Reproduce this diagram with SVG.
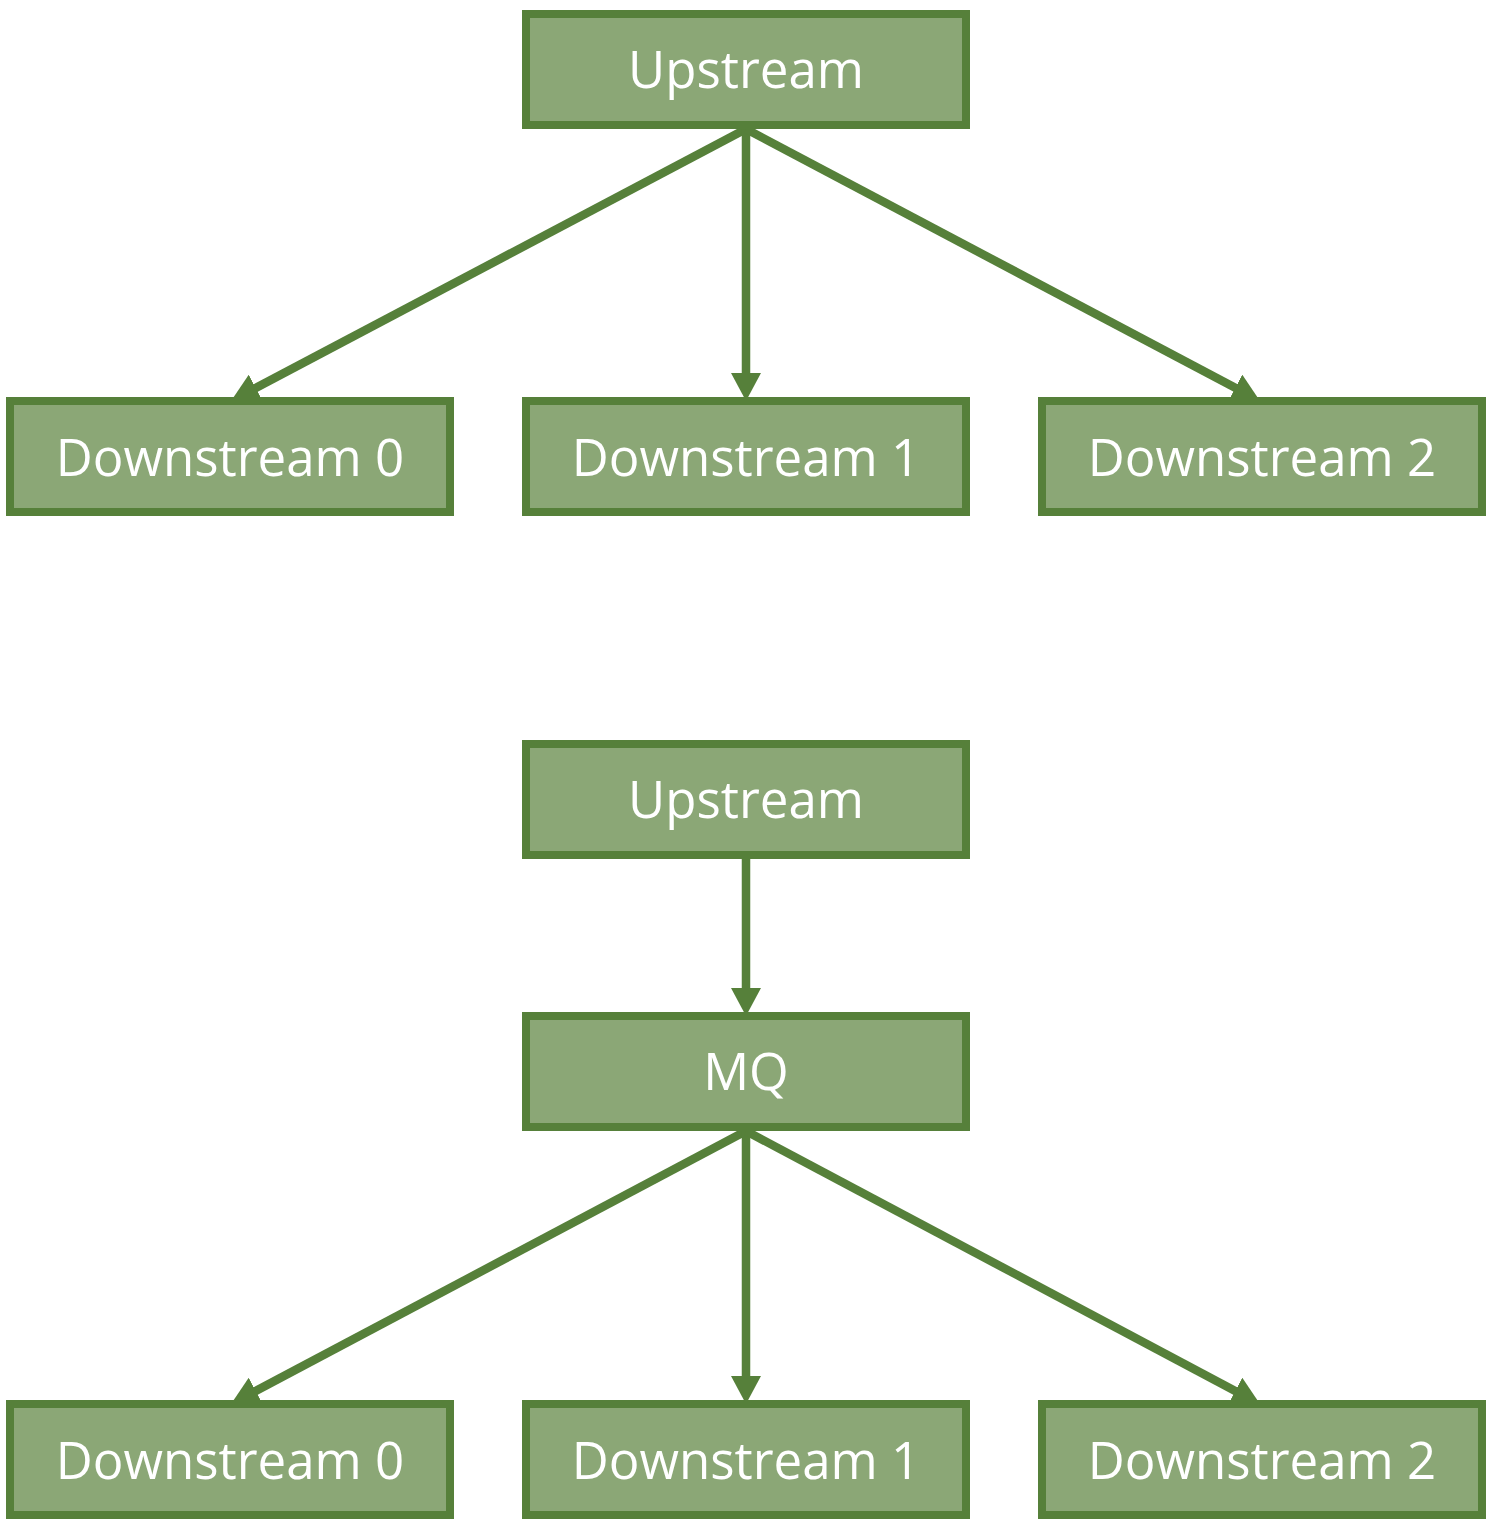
<svg xmlns="http://www.w3.org/2000/svg" width="1492" height="1528" viewBox="0 0 1492 1528">
<style>
.box{fill:#8BA776;stroke:#56803A;stroke-width:8}
.lbl{font-family:"Open Sans","Liberation Sans",sans-serif;font-size:51px;fill:#FFFFFF;text-anchor:middle}
.con{stroke:#56803A;stroke-width:8.5;fill:none;marker-end:url(#ah)}
</style>
<defs>
<marker id="ah" markerUnits="userSpaceOnUse" markerWidth="30" markerHeight="30" refX="8" refY="15" orient="auto" viewBox="0 0 30 30">
<path d="M0,0 L28,15 L0,30 z" fill="#56803A"/>
</marker>
</defs>
<rect width="1492" height="1528" fill="#FFFFFF"/>
<g id="connectors">
<line class="con" x1="746" y1="129" x2="248.7" y2="391.7"/>
<line class="con" x1="746" y1="129" x2="746" y2="381"/>
<line class="con" x1="746" y1="129" x2="1242.3" y2="391.6"/>
<line class="con" x1="746" y1="859" x2="746" y2="996"/>
<line class="con" x1="746" y1="1131" x2="248.7" y2="1394.7"/>
<line class="con" x1="746" y1="1131" x2="746" y2="1384"/>
<line class="con" x1="746" y1="1131" x2="1242.3" y2="1394.7"/>
</g>
<g id="upstream1"><rect class="box" x="526" y="14" width="440" height="111"/><text class="lbl" x="746" y="88">Upstream</text></g>
<g id="down0a"><rect class="box" x="10" y="401" width="440" height="111"/><text class="lbl" x="230" y="476">Downstream 0</text></g>
<g id="down1a"><rect class="box" x="526" y="401" width="440" height="111"/><text class="lbl" x="746" y="476">Downstream 1</text></g>
<g id="down2a"><rect class="box" x="1042" y="401" width="440" height="111"/><text class="lbl" x="1262" y="476">Downstream 2</text></g>
<g id="upstream2"><rect class="box" x="526" y="744" width="440" height="111"/><text class="lbl" x="746" y="818">Upstream</text></g>
<g id="mq"><rect class="box" x="526" y="1016" width="440" height="111"/><text class="lbl" x="746" y="1090">MQ</text></g>
<g id="down0b"><rect class="box" x="10" y="1404" width="440" height="111"/><text class="lbl" x="230" y="1479">Downstream 0</text></g>
<g id="down1b"><rect class="box" x="526" y="1404" width="440" height="111"/><text class="lbl" x="746" y="1479">Downstream 1</text></g>
<g id="down2b"><rect class="box" x="1042" y="1404" width="440" height="111"/><text class="lbl" x="1262" y="1479">Downstream 2</text></g>
</svg>
